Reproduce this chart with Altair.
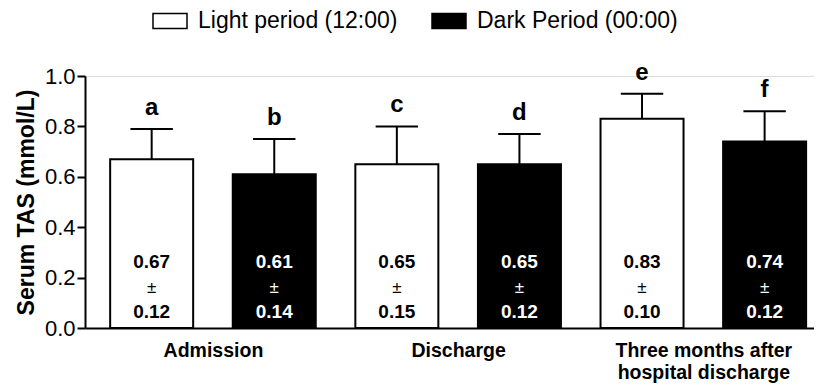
import json
import altair as alt
import pandas as pd

# ---- data ----
groups = ["Admission", "Discharge", "Three months after hospital discharge"]
group_lines = [["Admission"], ["Discharge"], ["Three months after", "hospital discharge"]]
periods = ["Light period (12:00)", "Dark Period (00:00)"]
means = [0.67, 0.61, 0.65, 0.65, 0.83, 0.74]
sds = [0.12, 0.14, 0.15, 0.12, 0.10, 0.12]
letters = ["a", "b", "c", "d", "e", "f"]
y_ticks = [0.0, 0.1, 0.2, 0.3, 0.4, 0.5, 0.6, 0.7, 0.8, 0.9, 1.0]

rows = []
for i, (m, s, l) in enumerate(zip(means, sds, letters)):
    rows.append({
        "pos": i,
        "group": groups[i // 2],
        "period": periods[i % 2],
        "mean": m,
        "sd": s,
        "top": m + s,
        "letter": l,
        "mean_txt": f"{m:.2f}",
        "sd_txt": f"{s:.2f}",
        "pm": "\u00b1",
    })
df = pd.DataFrame(rows)

FONT = "Liberation Sans"
CAP_HALF = 0.173  # half width of error bar caps, in bar-position units

# x axis: one label per group, centred between its two bars
label_expr = ""
for k, lines in enumerate(group_lines):
    txt = json.dumps(lines if len(lines) > 1 else lines[0])
    if k < len(group_lines) - 1:
        label_expr += f"datum.value < {2 * k + 1.5} ? {txt} : "
    else:
        label_expr += txt
group_centres = [2 * k + 0.5 for k in range(len(groups))]

xscale = alt.Scale(domain=[-0.503, 5.362], nice=False, zero=False)
yscale = alt.Scale(domain=[0, 1], nice=False)

xaxis = alt.Axis(
    values=group_centres, labelExpr=label_expr, title=None, ticks=False, grid=False,
    domainColor="black", domainWidth=2, labelFont=FONT, labelFontSize=19.5,
    labelFontWeight="bold", labelColor="black", labelPadding=13, labelBaseline="top",
    labelLineHeight=22, labelAngle=0, labelFlush=False, labelOverlap=False, labelLimit=0,
)
yaxis = alt.Axis(
    values=y_ticks,
    labelExpr="round(datum.value*10) % 2 == 0 ? format(datum.value, '.1f') : ''",
    tickSize={"condition": {"test": "round(datum.value*10) % 2 == 1", "value": 5}, "value": 8},
    tickWidth=2, tickColor="black", domainColor="black", domainWidth=2, grid=False,
    labelFont=FONT, labelFontSize=22, labelColor="black", labelPadding=2,
    title="Serum TAS (mmol/L)", titleFont=FONT, titleFontSize=23, titleFontWeight="bold",
    titleColor="black", titlePadding=6,
)

base = alt.Chart(df)

bars = base.mark_bar(size=83, stroke="black", strokeWidth=2).encode(
    x=alt.X("pos:Q", scale=xscale, axis=xaxis),
    y=alt.Y("mean:Q", scale=yscale, axis=yaxis),
    fill=alt.Fill(
        "period:N",
        scale=alt.Scale(domain=periods, range=["white", "black"]),
        legend=alt.Legend(
            orient="none", legendX=67, legendY=-73, direction="horizontal", title=None,
            symbolType="M-1,-0.44H1V0.44H-1Z", symbolSize=1156, symbolStrokeColor="black",
            symbolStrokeWidth=1.5, symbolOpacity=1, labelFont=FONT, labelFontSize=23,
            labelColor="black", labelOffset=10, columnPadding=31, labelLimit=0,
        ),
    ),
)

err = base.mark_rule(color="black", strokeWidth=2).encode(
    x="pos:Q", y="mean:Q", y2="top:Q"
)
caps = base.transform_calculate(
    cl=f"datum.pos - {CAP_HALF}", cr=f"datum.pos + {CAP_HALF}"
).mark_rule(color="black", strokeWidth=2).encode(
    x="cl:Q", x2="cr:Q", y="top:Q"
)

letters_layer = base.mark_text(
    font=FONT, fontSize=24, fontWeight="bold", baseline="alphabetic", dy=-14, color="black"
).encode(x="pos:Q", y="top:Q", text="letter:N")

txt_color = alt.Color("period:N", scale=alt.Scale(domain=periods, range=["black", "white"]), legend=None)

mean_txt = base.mark_text(font=FONT, fontSize=19, fontWeight="bold", baseline="middle", dy=-66).encode(
    x="pos:Q", y=alt.datum(0), text="mean_txt:N", color=txt_color
)
pm_txt = base.mark_text(font=FONT, fontSize=17, baseline="middle", dy=-40).encode(
    x="pos:Q", y=alt.datum(0), text="pm:N", color=txt_color
)
sd_txt = base.mark_text(font=FONT, fontSize=19, fontWeight="bold", baseline="middle", dy=-16).encode(
    x="pos:Q", y=alt.datum(0), text="sd_txt:N", color=txt_color
)

chart = alt.layer(bars, err, caps, letters_layer, mean_txt, pm_txt, sd_txt).properties(
    width=729,
    height=252,
    padding={"left": 77, "top": 68, "right": 0, "bottom": 55},
    autosize=alt.AutoSizeParams(type="none"),
    background="white",
).configure_view(stroke=None).configure(font=FONT)

chart.save("out.html", embed_options={"renderer": "svg", "actions": False})
